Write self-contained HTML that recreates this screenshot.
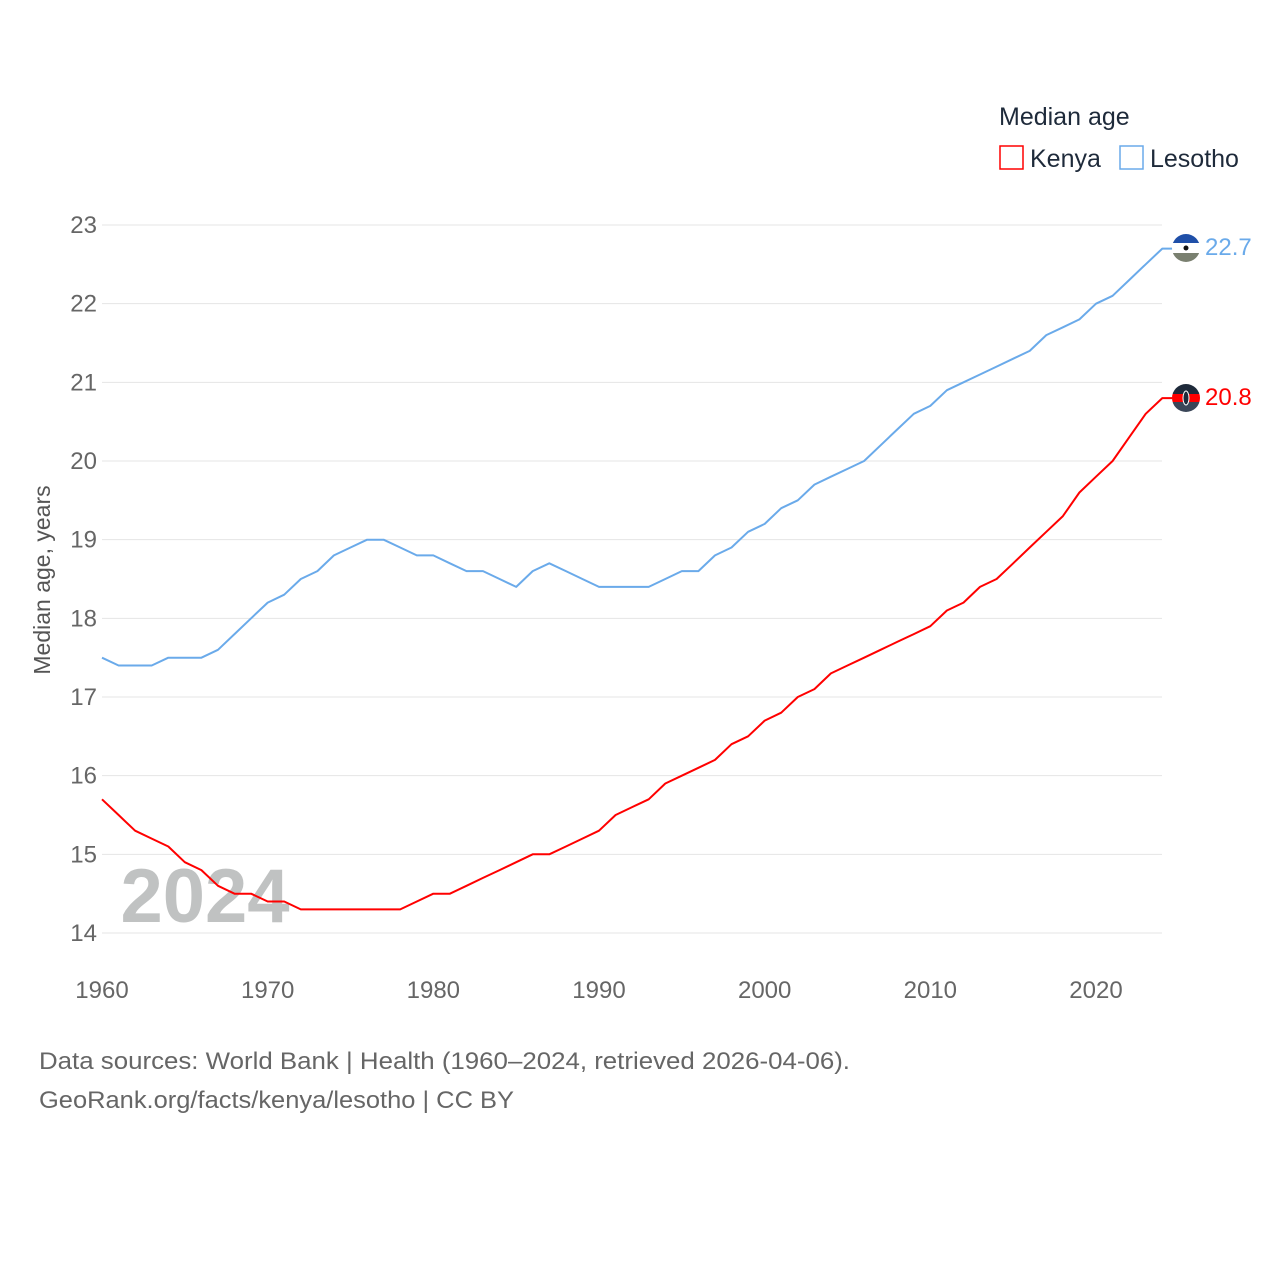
<!DOCTYPE html>
<html><head><meta charset="utf-8"><style>
body{margin:0;background:#fff;font-family:"Liberation Sans",sans-serif}
svg text{font-family:"Liberation Sans",sans-serif}
</style></head><body>
<svg width="1280" height="1280" viewBox="0 0 1280 1280">
<text x="999" y="125" font-size="25" fill="#1e2a3a">Median age</text>
<g><rect x="1000" y="146" width="23" height="23" fill="none" stroke="#ff0000" stroke-width="1.5"/><text x="1030" y="167" font-size="25" fill="#1e2a3a">Kenya</text></g>
<g><rect x="1120" y="146" width="23" height="23" fill="none" stroke="#6aaaea" stroke-width="1.5"/><text x="1150" y="167" font-size="25" fill="#1e2a3a">Lesotho</text></g>
<g id="grid"></g>
<text x="205" y="922" font-size="76" font-weight="bold" fill="#c0c2c2" text-anchor="middle">2024</text>
<g id="series"></g>
<text transform="translate(50,580) rotate(-90)" font-size="23" fill="#555" text-anchor="middle">Median age, years</text>
<g><clipPath id="c1"><circle cx="1186" cy="248" r="14"/></clipPath><g clip-path="url(#c1)"><rect x="1172" y="234" width="28" height="9" fill="#1f4fa8"/><rect x="1172" y="243" width="28" height="10" fill="#fff"/><rect x="1172" y="253" width="28" height="9" fill="#7a8070"/><circle cx="1186" cy="248" r="2.5" fill="#111"/></g></g>
<g><clipPath id="c2"><circle cx="1186" cy="398" r="14"/></clipPath><g clip-path="url(#c2)"><rect x="1172" y="384" width="28" height="10" fill="#1e2a3a"/><rect x="1172" y="394" width="28" height="8" fill="#ff0000"/><rect x="1172" y="402" width="28" height="10" fill="#3a4658"/><ellipse cx="1186" cy="398" rx="3" ry="7" fill="#1e2a3a" stroke="#fff" stroke-width="1"/></g></g>
<text x="1205" y="255" font-size="24" fill="#6aaaea">22.7</text>
<text x="1205" y="405" font-size="24" fill="#ff0000">20.8</text>
<text x="39" y="1069" font-size="24" fill="#666" textLength="811" lengthAdjust="spacingAndGlyphs">Data sources: World Bank | Health (1960–2024, retrieved 2026-04-06).</text>
<text x="39" y="1108" font-size="24" fill="#666" textLength="475" lengthAdjust="spacingAndGlyphs">GeoRank.org/facts/kenya/lesotho | CC BY</text>
</svg>
<script>
const years=[];for(let y=1960;y<=2024;y++)years.push(y);
const yTicks=[14,15,16,17,18,19,20,21,22,23];
const xTicks=[1960,1970,1980,1990,2000,2010,2020];
const lesotho=[17.5,17.4,17.4,17.4,17.5,17.5,17.5,17.6,17.8,18.0,18.2,18.3,18.5,18.6,18.8,18.9,19.0,19.0,18.9,18.8,18.8,18.7,18.6,18.6,18.5,18.4,18.6,18.7,18.6,18.5,18.4,18.4,18.4,18.4,18.5,18.6,18.6,18.8,18.9,19.1,19.2,19.4,19.5,19.7,19.8,19.9,20.0,20.2,20.4,20.6,20.7,20.9,21.0,21.1,21.2,21.3,21.4,21.6,21.7,21.8,22.0,22.1,22.3,22.5,22.7];
const kenya=[15.7,15.5,15.3,15.2,15.1,14.9,14.8,14.6,14.5,14.5,14.4,14.4,14.3,14.3,14.3,14.3,14.3,14.3,14.3,14.4,14.5,14.5,14.6,14.7,14.8,14.9,15.0,15.0,15.1,15.2,15.3,15.5,15.6,15.7,15.9,16.0,16.1,16.2,16.4,16.5,16.7,16.8,17.0,17.1,17.3,17.4,17.5,17.6,17.7,17.8,17.9,18.1,18.2,18.4,18.5,18.7,18.9,19.1,19.3,19.6,19.8,20.0,20.3,20.6,20.8];
const NS="http://www.w3.org/2000/svg";
const X=y=>102+(y-1960)*(1096-102)/60;
const Y=v=>933-(v-14)*(933-225)/9;
const grid=document.getElementById('grid');
yTicks.forEach(t=>{
 const l=document.createElementNS(NS,'line');
 l.setAttribute('x1',102);l.setAttribute('x2',1162);l.setAttribute('y1',Y(t));l.setAttribute('y2',Y(t));
 l.setAttribute('stroke','#e4e4e4');l.setAttribute('stroke-width','1');
 
 
 grid.appendChild(l);
 const tx=document.createElementNS(NS,'text');
 tx.setAttribute('x',97);tx.setAttribute('y',Y(t)+8);tx.setAttribute('text-anchor','end');
 tx.setAttribute('font-size','24');tx.setAttribute('fill','#666');tx.textContent=t;
 
 
 grid.appendChild(tx);
});
xTicks.forEach(t=>{
 const tx=document.createElementNS(NS,'text');
 tx.setAttribute('x',X(t));tx.setAttribute('y',998);tx.setAttribute('text-anchor','middle');
 tx.setAttribute('font-size','24');tx.setAttribute('fill','#666');tx.textContent=t;
 
 
 grid.appendChild(tx);
});
const s=document.getElementById('series');
function draw(vals,color,name){
 let d=vals.map((v,i)=>(i?'L':'M')+X(years[i]).toFixed(1)+','+Y(v).toFixed(1)).join(' ');
 d+=' L'+(X(years[years.length-1])+10)+','+Y(vals[vals.length-1]).toFixed(1);
 const p=document.createElementNS(NS,'path');
 p.setAttribute('d',d);p.setAttribute('fill','none');p.setAttribute('stroke',color);p.setAttribute('stroke-width','2');
 p.setAttribute('stroke-linejoin','round');
 
 
 s.appendChild(p);
}
draw(lesotho,'#6aaaea','lesotho-line');
draw(kenya,'#ff0000','kenya-line');
</script>
</body></html>
